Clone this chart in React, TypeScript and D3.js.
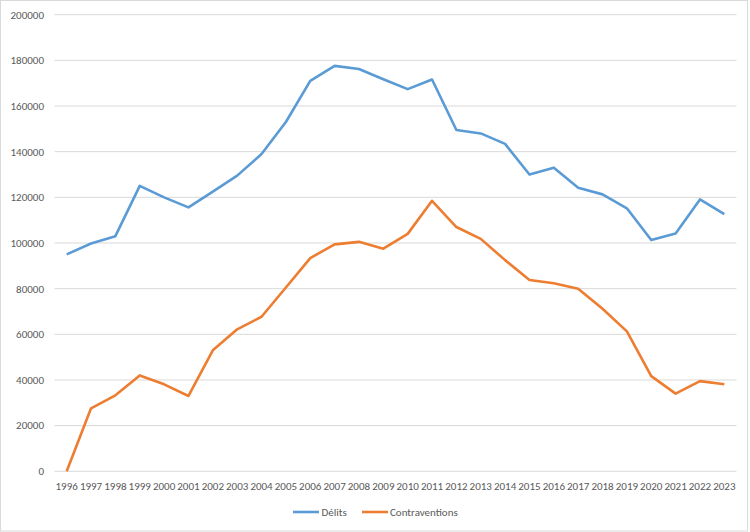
import React from "react";
import * as d3 from "d3";

const years: string[] = [
  "1996","1997","1998","1999","2000","2001","2002","2003","2004","2005",
  "2006","2007","2008","2009","2010","2011","2012","2013","2014","2015",
  "2016","2017","2018","2019","2020","2021","2022","2023",
];
const delits: number[] = [
  95000, 99800, 103000, 125000, 120000, 115600, 122500, 129500, 139000, 153000,
  171000, 177600, 176200, 171700, 167400, 171600, 149500, 148000, 143400, 130000,
  133000, 124200, 121300, 115200, 101300, 104200, 119100, 112600,
];
const contraventions: number[] = [
  0, 27600, 33300, 42000, 38100, 33000, 53000, 62200, 67700, 80500,
  93400, 99400, 100500, 97500, 104000, 118500, 107000, 101800, 92500, 83800,
  82400, 80000, 71200, 61300, 41700, 34000, 39500, 38100,
];
const yTicks: number[] = [0, 20000, 40000, 60000, 80000, 100000, 120000, 140000, 160000, 180000, 200000];
const seriesNames: string[] = ["Délits", "Contraventions"];
const seriesColors: string[] = ["#5B9BD5", "#ED7D31"];

const W = 750;
const H = 532;
const FONT = "Calibri, Carlito, 'Liberation Sans', Arial, sans-serif";
const FS = 11;

export default function App() {
  const left = 54.5;
  const right = 736.5;
  const top = 14.7;
  const bottom = 471.3;

  const x = d3.scaleBand<string>().domain(years).range([left, right]).padding(0);
  const y = d3.scaleLinear().domain([0, 200000]).range([bottom, top]);
  const cx = (yr: string) => (x(yr) as number) + x.bandwidth() / 2;

  const line = d3
    .line<number>()
    .x((_, i) => cx(years[i]))
    .y((d) => y(d));

  const series = [delits, contraventions];

  return (
    <svg
      width={W}
      height={H}
      style={{ position: "absolute", left: 0, top: 0, background: "#fff" }}
    >
      <rect x={0.5} y={0.5} width={747} height={530.5} fill="#fff" stroke="#D9D9D9" />
      {yTicks.map((t) => (
        <g key={t}>
          <line x1={left} x2={right} y1={y(t)} y2={y(t)} stroke="#D9D9D9" strokeWidth={1} />
          <text
            x={44}
            y={y(t)}
            dy="0.35em"
            textAnchor="end"
            fontFamily={FONT}
            fontSize={FS}
            fill="#595959"
          >
            {t}
          </text>
        </g>
      ))}
      {years.map((yr) => (
        <text
          key={yr}
          x={cx(yr)}
          y={489.5}
          textAnchor="middle"
          fontFamily={FONT}
          fontSize={FS}
          fill="#595959"
        >
          {yr}
        </text>
      ))}
      {series.map((s, i) => (
        <path
          key={i}
          d={line(s) || ""}
          fill="none"
          stroke={seriesColors[i]}
          strokeWidth={2.6}
          strokeLinejoin="round"
          strokeLinecap="butt"
        />
      ))}
      <g>
        <line x1={293} x2={319} y1={512} y2={512} stroke={seriesColors[0]} strokeWidth={2.6} />
        <text x={321.5} y={512} dy="0.35em" fontFamily={FONT} fontSize={FS} fill="#595959">
          {seriesNames[0]}
        </text>
        <line x1={362} x2={388} y1={512} y2={512} stroke={seriesColors[1]} strokeWidth={2.6} />
        <text x={390} y={512} dy="0.35em" fontFamily={FONT} fontSize={FS} fill="#595959">
          {seriesNames[1]}
        </text>
      </g>
    </svg>
  );
}
